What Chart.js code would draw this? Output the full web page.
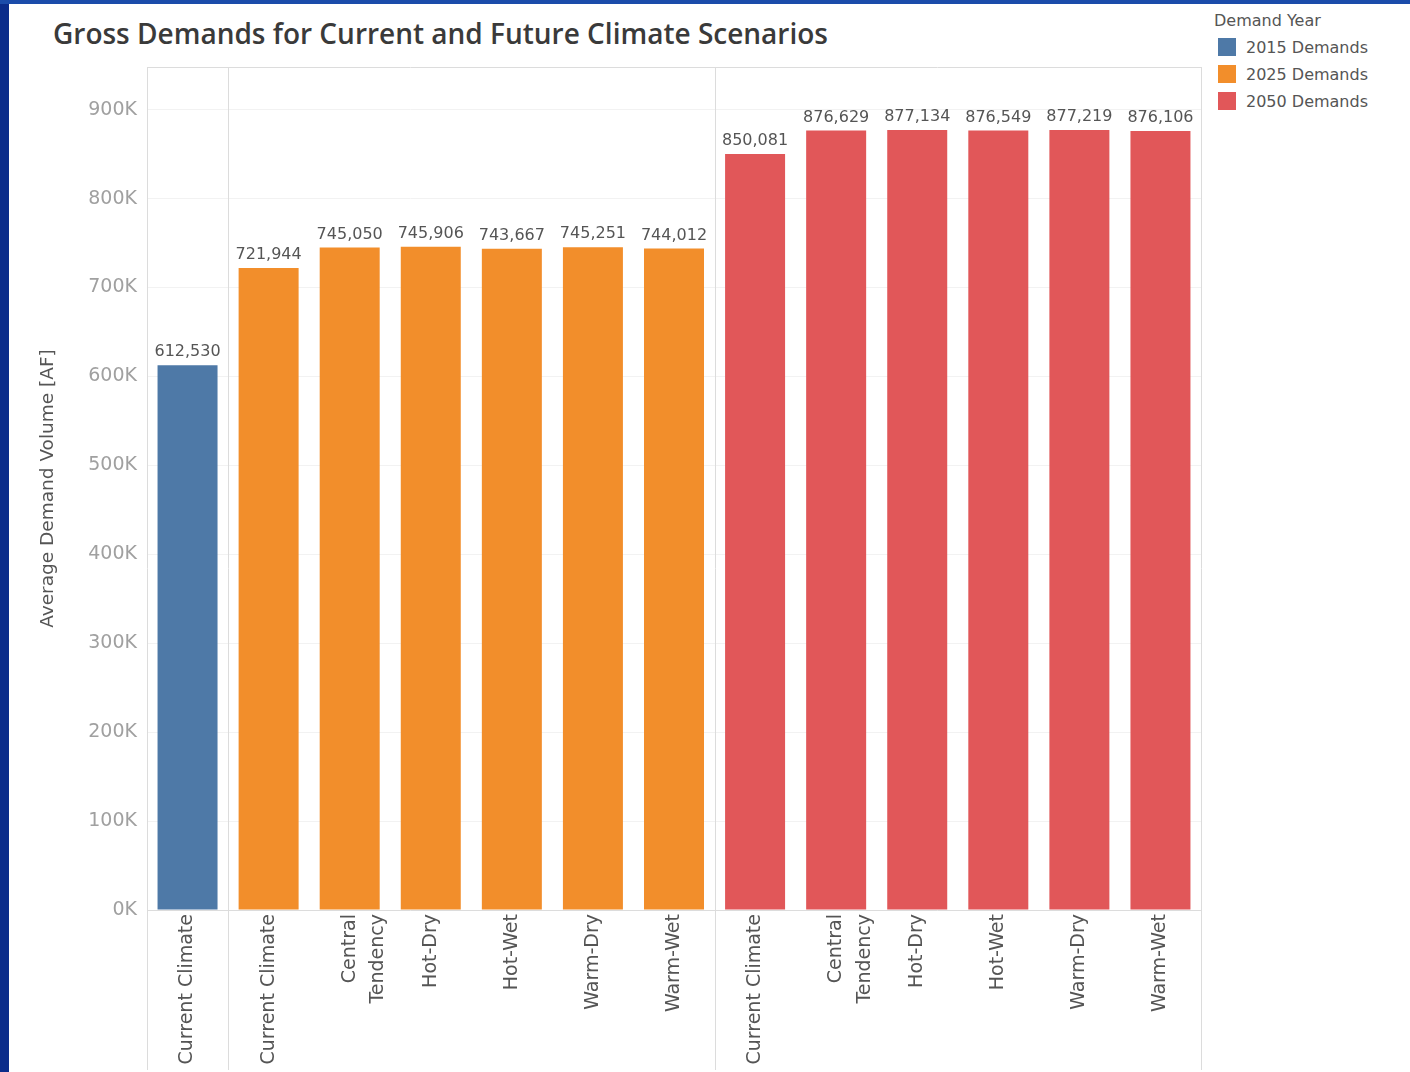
<!DOCTYPE html>
<html>
<head>
<meta charset="utf-8">
<title>Gross Demands for Current and Future Climate Scenarios</title>
<script src="https://cdn.jsdelivr.net/npm/chart.js@4.4.1/dist/chart.umd.min.js"></script>
<style>
  body { margin: 0; width: 1410px; height: 1072px; background: #0b2c8a; overflow: hidden; }
  #topbar { position: absolute; left: 0; top: 0; width: 1410px; height: 4px; background: #1b4caa; }
  #panel { position: absolute; left: 9px; top: 4px; width: 1401px; height: 1068px; background: #fff; }
  #title { position: absolute; left: 44px; top: 10px; font: 600 28px "Open Sans"; color: #3a3a3a; white-space: nowrap; }
  #legend { position: absolute; left: 1205px; top: 7px; font: 16px "DejaVu Sans"; color: #555; }
  #legend .head { margin-bottom: 8px; }
  #legend .item { display: flex; align-items: center; height: 18px; margin: 0 0 9px 4px; }
  #legend .swatch { width: 18px; height: 18px; margin-right: 10px; }
  #myChart { position: absolute; left: 0; top: 0; }
</style>
</head>
<body>
<div id="topbar"></div>
<div id="panel">
  <div id="title">Gross Demands for Current and Future Climate Scenarios</div>
  <div id="legend"></div>
  <canvas id="myChart" width="1401" height="1068"></canvas>
</div>
<script>
// scenarios and average gross demands (AF) per demand year
const scenarios2015 = ["Current Climate"];
const values2015 = [612530];

const scenarios2025 = ["Current Climate", ["Central", "Tendency"], "Hot-Dry", "Hot-Wet", "Warm-Dry", "Warm-Wet"];
const values2025 = [721944, 745050, 745906, 743667, 745251, 744012];

const scenarios2050 = ["Current Climate", ["Central", "Tendency"], "Hot-Dry", "Hot-Wet", "Warm-Dry", "Warm-Wet"];
const values2050 = [850081, 876629, 877134, 876549, 877219, 876106];

const seriesNames = ["2015 Demands", "2025 Demands", "2050 Demands"];
const seriesColors = ["#4e79a7", "#f28e2b", "#e15759"];

const yTicks = [0, 100000, 200000, 300000, 400000, 500000, 600000, 700000, 800000, 900000];
const yMax = 948000;

const labels = [...scenarios2015, ...scenarios2025, ...scenarios2050];
const n1 = scenarios2015.length;
const n2 = scenarios2025.length;
const n3 = scenarios2050.length;

const blanks = (n) => Array(n).fill(null);
const data2015 = [...values2015, ...blanks(n2 + n3)];
const data2025 = [...blanks(n1), ...values2025, ...blanks(n3)];
const data2050 = [...blanks(n1 + n2), ...values2050];

// pane edges (in category slots) for the divider lines
const paneEdges = [0, n1, n1 + n2, n1 + n2 + n3];

Chart.defaults.font.family = "'DejaVu Sans', sans-serif";

const paneLines = {
  id: "paneLines",
  beforeDatasetsDraw(chart) {
    const { ctx, chartArea, scales } = chart;
    const x = scales.x;
    const slot = (x.right - x.left) / labels.length;
    ctx.save();
    ctx.strokeStyle = "#dcdcdc";
    ctx.lineWidth = 1;
    ctx.beginPath();
    ctx.moveTo(chartArea.left, Math.round(chartArea.top) + 0.5);
    ctx.lineTo(chartArea.right, Math.round(chartArea.top) + 0.5);
    ctx.moveTo(chartArea.left, Math.round(chartArea.bottom) + 0.5);
    ctx.lineTo(chartArea.right, Math.round(chartArea.bottom) + 0.5);
    paneEdges.forEach((e) => {
      const px = Math.round(x.left + e * slot) + 0.5;
      ctx.moveTo(px, chartArea.top);
      ctx.lineTo(px, chart.height - 2);
    });
    ctx.stroke();
    ctx.restore();
  },
};

const valueLabels = {
  id: "valueLabels",
  afterDatasetsDraw(chart) {
    const { ctx } = chart;
    ctx.save();
    ctx.font = "16px 'DejaVu Sans'";
    ctx.fillStyle = "#555";
    ctx.textAlign = "center";
    ctx.textBaseline = "bottom";
    chart.data.datasets.forEach((ds, i) => {
      const meta = chart.getDatasetMeta(i);
      meta.data.forEach((bar, j) => {
        const v = ds.data[j];
        if (v == null) return;
        ctx.fillText(v.toLocaleString("en-US"), bar.x, bar.y - 5);
      });
    });
    ctx.restore();
  },
};

const chart = new Chart(document.getElementById("myChart"), {
  type: "bar",
  data: {
    labels: labels,
    datasets: [
      { label: seriesNames[0], data: data2015, backgroundColor: seriesColors[0] },
      { label: seriesNames[1], data: data2025, backgroundColor: seriesColors[1] },
      { label: seriesNames[2], data: data2050, backgroundColor: seriesColors[2] },
    ],
  },
  options: {
    responsive: false,
    animation: false,
    grouped: false,
    barPercentage: 0.74,
    categoryPercentage: 1,
    layout: { padding: { top: 63, right: 209, bottom: 0, left: 0 } },
    plugins: {
      legend: { display: false },
      tooltip: { enabled: false },
    },
    scales: {
      x: {
        grid: { display: false },
        border: { display: false },
        ticks: {
          color: "#555",
          font: { size: 19, lineHeight: 1.5 },
          minRotation: 90,
          maxRotation: 90,
          padding: -4,
          autoSkip: false,
        },
        afterFit(scale) {
          scale.height = 162;
        },
      },
      y: {
        min: 0,
        max: yMax,
        border: { display: false },
        grid: { color: "#f2f2f2", drawTicks: false },
        afterBuildTicks(scale) {
          scale.ticks = yTicks.map((v) => ({ value: v }));
        },
        ticks: {
          color: "#a0a0a0",
          font: { size: 19 },
          padding: 10,
          callback: (v) => v / 1000 + "K",
        },
        title: {
          display: true,
          text: "Average Demand Volume [AF]",
          color: "#555",
          font: { size: 18.5 },
          padding: { top: 28, bottom: 0 },
        },
        afterFit(scale) {
          scale.width = 138;
        },
      },
    },
  },
  plugins: [paneLines, valueLabels],
});

// legend built from the chart's datasets
const legend = document.getElementById("legend");
legend.innerHTML = '<div class="head">Demand Year</div>' +
  chart.data.datasets.map((ds) =>
    '<div class="item"><span class="swatch" style="background:' + ds.backgroundColor + '"></span>' + ds.label + "</div>"
  ).join("");
</script>
</body>
</html>
